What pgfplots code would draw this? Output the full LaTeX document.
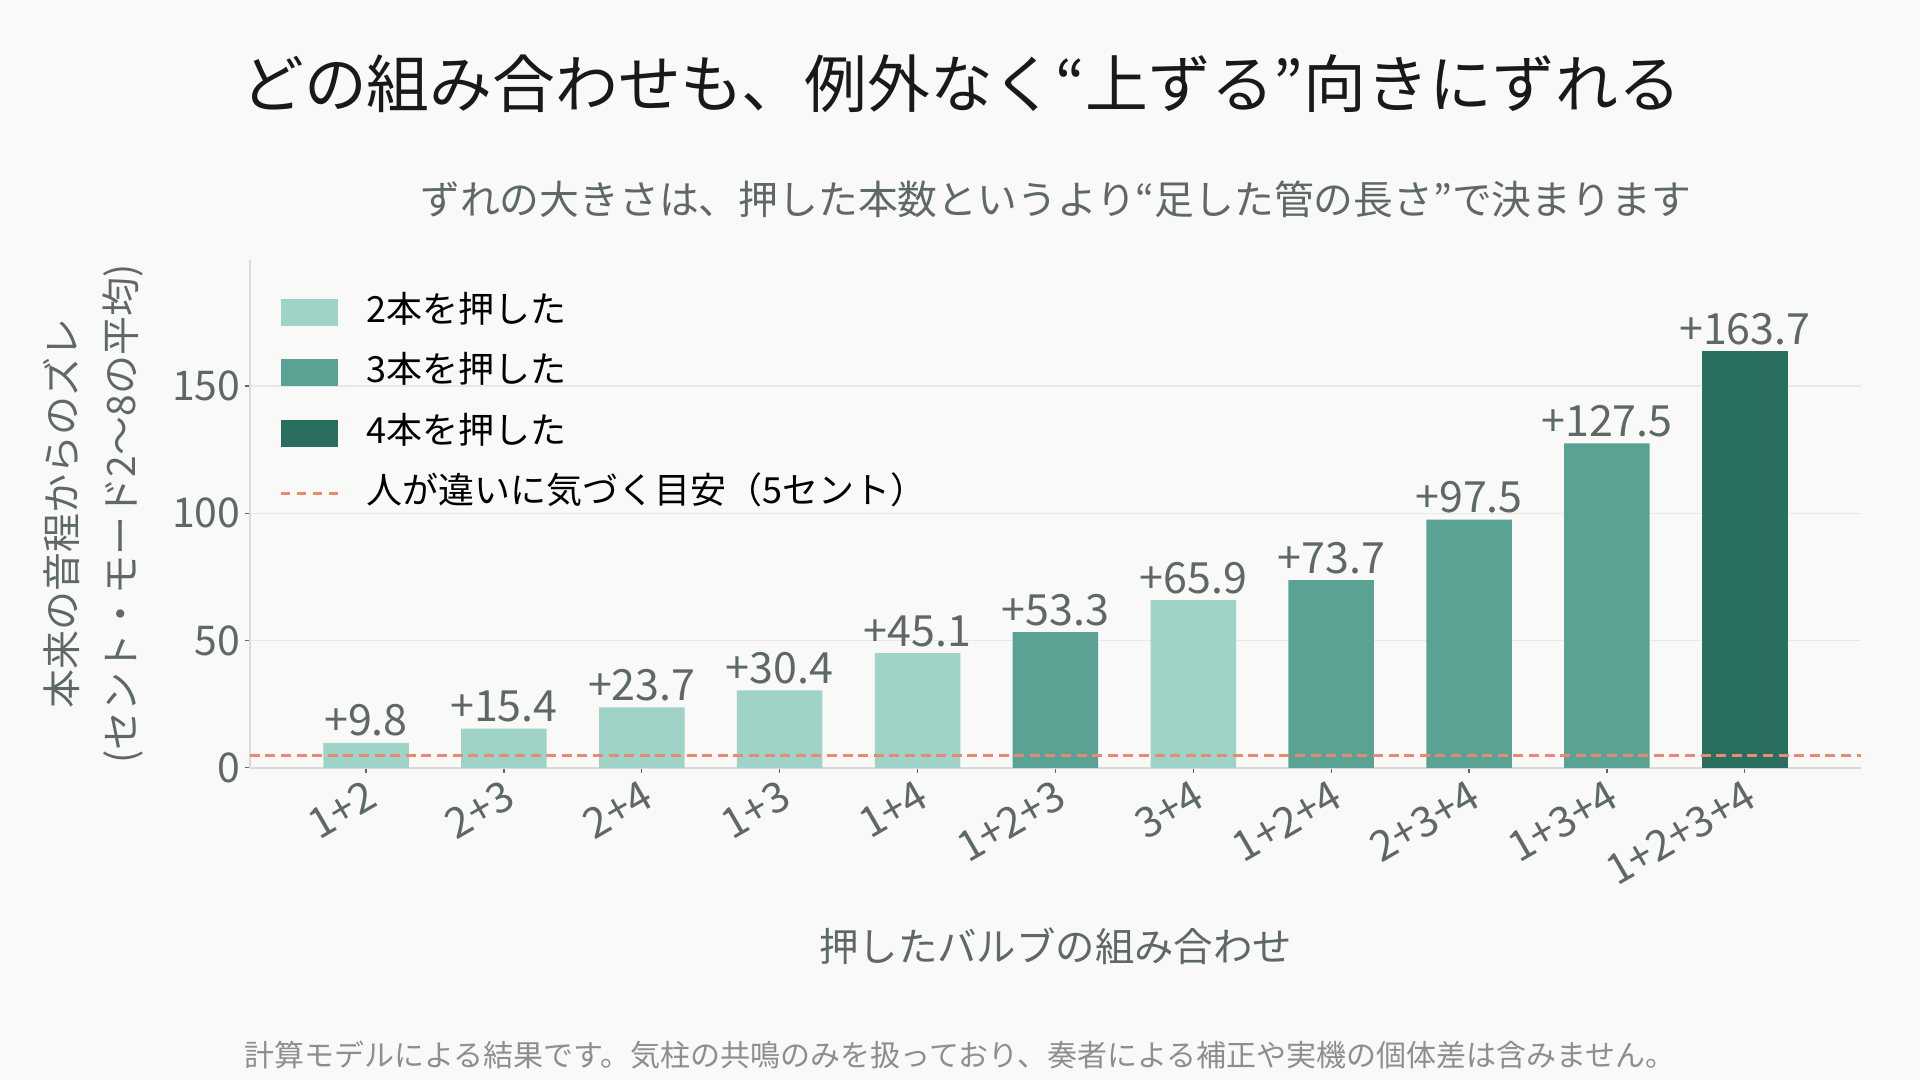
\documentclass[border=0pt]{standalone}
\usepackage{fontspec}
\setmainfont{Noto Sans CJK JP}
\usepackage{pgfplots}
\pgfplotsset{compat=1.18}
\definecolor{bg}{HTML}{F9F9F7}
\definecolor{light}{HTML}{9FD3C7}
\definecolor{medium}{HTML}{5AA294}
\definecolor{dark}{HTML}{2A6E60}
\definecolor{salmon}{HTML}{E88A72}
\definecolor{txtgray}{HTML}{5E6866}
\definecolor{footgray}{HTML}{8E8E8E}
\definecolor{gridgray}{HTML}{E8E8E6}
\definecolor{axgray}{HTML}{DADAD8}
\newcommand{\fs}[1]{\fontsize{#1}{1.2\dimexpr#1\relax}\selectfont}
\begin{document}
\begin{tikzpicture}
\path[use as bounding box] (0,0) rectangle (960bp,540bp);
\fill[bg] (0,0) rectangle (960bp,540bp);
\begin{axis}[
  at={(124.9bp,156.1bp)}, anchor=south west,
  scale only axis, width=805.7bp, height=254.1bp,
  xmin=-0.843, xmax=10.844, ymin=0, ymax=199.7,
  axis x line*=bottom, axis y line*=left,
  axis line style={axgray, line width=0.8bp},
  xtick={0,...,10},
  xticklabels={1+2,2+3,2+4,1+3,1+4,1+2+3,3+4,1+2+4,2+3+4,1+3+4,1+2+3+4},
  ytick={0,50,100,150},
  ymajorgrids, grid style={gridgray, line width=0.8bp},
  major tick length=2.5bp,
  tick style={txtgray, line width=0.6bp},
  tick align=outside,
  /pgf/number format/assume math mode=true,
  ticklabel style={font=\fs{20.5bp}, text=txtgray},
  xticklabel style={rotate=30, anchor=north east, inner sep=2bp, font=\fs{21bp}},
  yticklabel style={inner sep=2bp},
  legend style={at={(axis description cs:0,1)}, anchor=north west,
    xshift=11.6bp, yshift=-16.2bp, draw=none, fill=none,
    font=\fs{18bp}, row sep=14.2bp,
    nodes={inner sep=0pt, text height=13bp, text depth=3bp},
    /tikz/every odd column/.append style={column sep=13.4bp}},
  legend cell align=left,
]
\addplot[ybar, bar width=0.62, bar shift=0pt, fill=light, draw=none,
  nodes near coords={+\pgfmathprintnumber[fixed,fixed zerofill,precision=1]{\pgfplotspointmeta}},
  every node near coord/.append style={font=\fs{21.5bp}, text=txtgray, inner sep=3bp},
  legend image code/.code={\fill[light] (0bp,-6.75bp) rectangle (28.8bp,6.75bp);}]
  coordinates {(0,9.8) (1,15.4) (2,23.7) (3,30.4) (4,45.1) (6,65.9)};
\addlegendentry{2本を押した}
\addplot[ybar, bar width=0.62, bar shift=0pt, fill=medium, draw=none,
  nodes near coords={+\pgfmathprintnumber[fixed,fixed zerofill,precision=1]{\pgfplotspointmeta}},
  every node near coord/.append style={font=\fs{21.5bp}, text=txtgray, inner sep=3bp},
  legend image code/.code={\fill[medium] (0bp,-6.75bp) rectangle (28.8bp,6.75bp);}]
  coordinates {(5,53.3) (7,73.7) (8,97.5) (9,127.5)};
\addlegendentry{3本を押した}
\addplot[ybar, bar width=0.62, bar shift=0pt, fill=dark, draw=none,
  nodes near coords={+\pgfmathprintnumber[fixed,fixed zerofill,precision=1]{\pgfplotspointmeta}},
  every node near coord/.append style={font=\fs{21.5bp}, text=txtgray, inner sep=3bp},
  legend image code/.code={\fill[dark] (0bp,-6.75bp) rectangle (28.8bp,6.75bp);}]
  coordinates {(10,163.7)};
\addlegendentry{4本を押した}
\addplot[salmon, line width=1.5bp, dash pattern=on 5bp off 2.8bp,
  legend image code/.code={\draw[salmon, line width=1.5bp, dash pattern=on 4.5bp off 3.6bp] (0bp,0bp) -- (28.8bp,0bp);}]
  coordinates {(-0.843,5) (10.844,5)};
\addlegendentry{人が違いに気づく目安（5セント）}
\end{axis}
\node[font=\fs{31.4bp}, text=black!90] at (480.6bp,498.4bp) {どの組み合わせも、例外なく“上ずる”向きにずれる};
\node[font=\fs{19.9bp}, text=txtgray] at (527.8bp,440.2bp) {ずれの大きさは、押した本数というより“足した管の長さ”で決まります};
\node[font=\fs{19.7bp}, text=txtgray] at (527.8bp,66.8bp) {押したバルブの組み合わせ};
\node[font=\fontsize{19.5bp}{29.4bp}\selectfont, text=txtgray, rotate=90, align=center] at (46.5bp,283bp) {本来の音程からのズレ\\(セント・モード2〜8の平均)};
\node[font=\fs{15bp}, text=footgray] at (480bp,12.3bp) {計算モデルによる結果です。気柱の共鳴のみを扱っており、奏者による補正や実機の個体差は含みません。};
\end{tikzpicture}
\end{document}
